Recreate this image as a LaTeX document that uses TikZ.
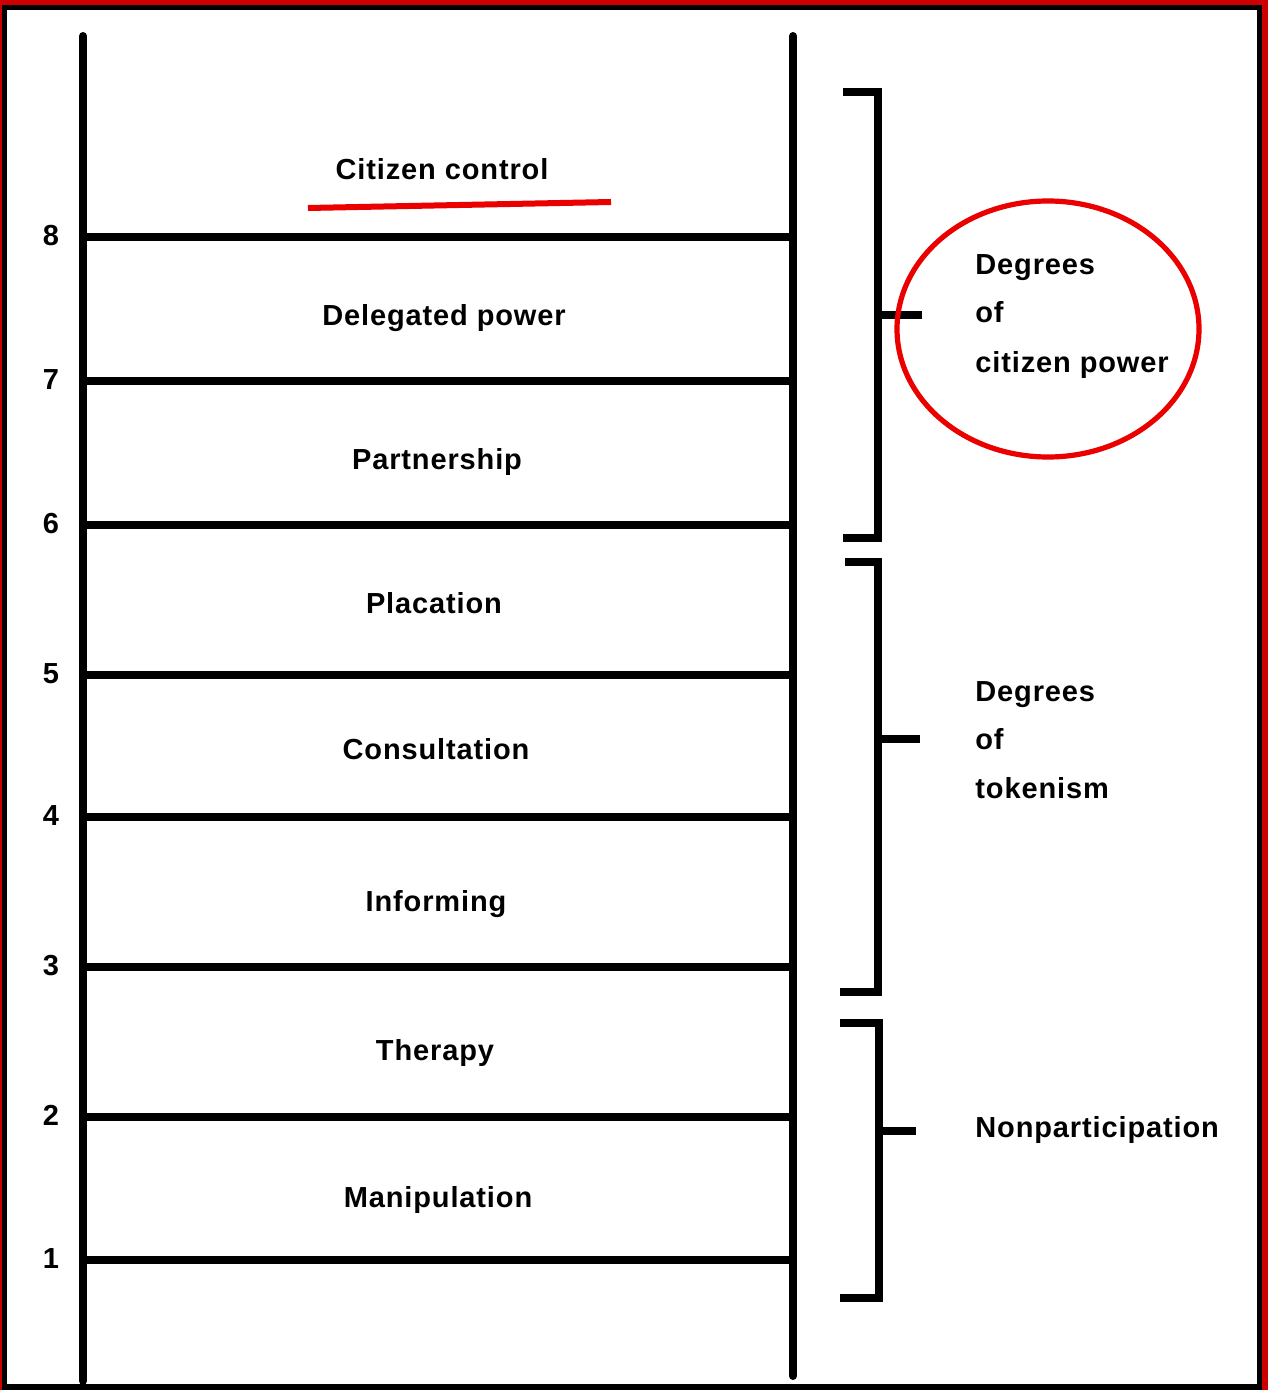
\documentclass[tikz,border=0pt]{standalone}
\usepackage{fontspec}
\setmainfont{Liberation Sans}[LetterSpace=3]
\begin{document}
\begin{tikzpicture}[x=0.5pt,y=-0.5pt,
  rail/.style={line width=4pt,line cap=round},
  rung/.style={line width=3.8pt},
  brk/.style={line width=3.8pt,line join=miter},
  txt/.style={font=\fontsize{14.5pt}{17pt}\selectfont\bfseries,inner sep=0pt,text height=10.4pt,text depth=0pt},
  lbl/.style={txt},
  num/.style={txt},
  grp/.style={txt,anchor=west},
  redmark/.style={draw=red!92!black,line width=2.6pt}]
\useasboundingbox (0,0) rectangle (1268,1390);
\fill[red!80!black] (0,0) rectangle (1268,1390);
\fill[black] (2,5) rectangle (1262,1390);
\fill[white] (7,10) rectangle (1257,1384);
% rails
\coordinate (lt) at (83,36);
\coordinate (lb) at (83,1381);
\coordinate (rt) at (793,36);
\coordinate (rb) at (793,1376);
\draw[rail] (lt) -- (lb);
\draw[rail] (rt) -- (rb);
% rungs
\foreach \y/\n in {237/8,381/7,525/6,675/5,817/4,967/3,1117/2,1260/1}{
  \draw[rung] (83,\y) -- (793,\y);
  \node[num] (n\n) at (51,\y-2) {\n};
}
% step labels
\node[lbl] (cc) at (442,169) {Citizen control};
\node[lbl] (dp) at (444,315) {Delegated power};
\node[lbl] (pa) at (437,459) {Partnership};
\node[lbl] (pl) at (434,603) {Placation};
\node[lbl] (co) at (436,749) {Consultation};
\node[lbl] (in) at (436,901) {Informing};
\node[lbl] (th) at (435,1050) {Therapy};
\node[lbl] (ma) at (438,1197) {Manipulation};
% red underline
\draw[redmark,line width=3pt] (308,208) -- (611,202);
% brackets
\draw[brk] (843,92) -- (878,92) -- (878,538) -- (843,538);
\draw[brk] (878,315) -- (922,315);
\draw[brk] (845,562) -- (878,562) -- (878,992) -- (840,992);
\draw[brk] (878,739) -- (920,739);
\draw[brk] (840,1023) -- (879,1023) -- (879,1298) -- (840,1298);
\draw[brk] (879,1131) -- (916,1131);
% group labels
\node[grp] (g1a) at (975,264) {Degrees};
\node[grp] (g1b) at (975,312) {of};
\node[grp] (g1c) at (975,362) {citizen power};
\node[grp] (g2a) at (975,691) {Degrees};
\node[grp] (g2b) at (975,739) {of};
\node[grp] (g2c) at (975,788) {tokenism};
\node[grp] (g3) at (975,1127) {Nonparticipation};
% red ellipse
\draw[redmark] (1048,329) ellipse [x radius=151, y radius=128];
\end{tikzpicture}
\end{document}
